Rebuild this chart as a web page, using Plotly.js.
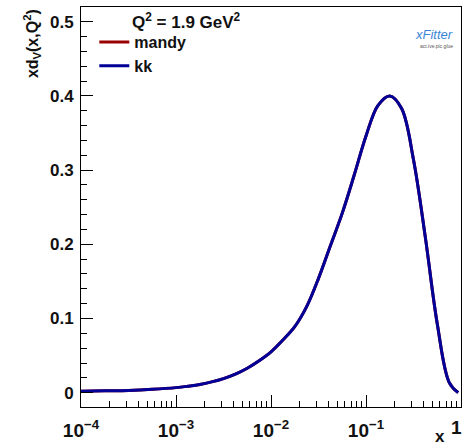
<!DOCTYPE html>
<html>
<head>
<meta charset="utf-8">
<script src="https://cdn.plot.ly/plotly-3.0.1.min.js"></script>
<style>html,body{margin:0;padding:0;background:#fff;}#chart{width:465px;height:448px;}</style>
</head>
<body>
<div id="chart"></div>
<script>
// log10(x) positions
const log10X = [-4.0, -3.75, -3.5, -3.25, -3.0, -2.875, -2.75, -2.625, -2.5, -2.375, -2.25, -2.125, -2.0, -1.875, -1.75, -1.625, -1.5, -1.375, -1.25, -1.125, -1.0, -0.875, -0.75, -0.625, -0.5, -0.375, -0.25, -0.125, -0.03];
// xd_V(x,Q^2) for the two fits (curves coincide)
const mandyValues = [0.002, 0.0025, 0.003, 0.0045, 0.0068, 0.0087, 0.011, 0.0145, 0.019, 0.025, 0.033, 0.043, 0.055, 0.071, 0.089, 0.116, 0.154, 0.198, 0.242, 0.293, 0.346, 0.387, 0.400, 0.383, 0.314, 0.209, 0.093, 0.014, 0.0];
const kkValues    = [0.002, 0.0025, 0.003, 0.0045, 0.0068, 0.0087, 0.011, 0.0145, 0.019, 0.025, 0.033, 0.043, 0.055, 0.071, 0.089, 0.116, 0.154, 0.198, 0.242, 0.293, 0.346, 0.387, 0.400, 0.383, 0.314, 0.209, 0.093, 0.014, 0.0];
const xValues = log10X.map(e => Math.pow(10, e));
const seriesNames = ["mandy", "kk"];
const xTickVals = [1e-4, 1e-3, 1e-2, 1e-1];
const xTickText = ["10<sup>\u22124</sup>", "10<sup>\u22123</sup>", "10<sup>\u22122</sup>", "10<sup>\u22121</sup>"];
const xMinorTickVals = [];
[1e-4, 1e-3, 1e-2, 1e-1].forEach(d => { for (let k = 2; k <= 9; k++) xMinorTickVals.push(d * k); });
const yTickVals = [0, 0.1, 0.2, 0.3, 0.4, 0.5];
const yTickText = ["0", "0.1", "0.2", "0.3", "0.4", "0.5"];

const fam = "Liberation Sans, Arial, sans-serif";
const bold = (size) => ({family: fam, size: size, color: "#111", weight: "bold"});

const traces = [
  {x: xValues, y: mandyValues, name: seriesNames[0], mode: "lines",
   line: {color: "#990000", width: 3, shape: "spline", smoothing: 1}},
  {x: xValues, y: kkValues, name: seriesNames[1], mode: "lines",
   line: {color: "#000099", width: 3, shape: "spline", smoothing: 1}}
];

const layout = {
  width: 465, height: 448,
  margin: {l: 81, r: 4, t: 7, b: 41, pad: 0},
  paper_bgcolor: "#fff", plot_bgcolor: "#fff",
  font: {family: fam, size: 16, color: "#111"},
  showlegend: true,
  legend: {x: 0.035, y: 0.955, xanchor: "left", yanchor: "top",
           font: bold(16), bgcolor: "rgba(0,0,0,0)", itemwidth: 30, tracegroupgap: 0},
  xaxis: {type: "log", range: [-4, 0], showgrid: false, zeroline: false,
          showline: true, linecolor: "#000", linewidth: 1, mirror: true,
          ticks: "inside", ticklen: 12, tickcolor: "#000",
          tickmode: "array", tickvals: xTickVals, ticktext: xTickText,
          ticklabelstandoff: 6,
          tickfont: bold(19),
          minor: {tickmode: "array", tickvals: xMinorTickVals, ticks: "inside", ticklen: 6, tickcolor: "#000", showgrid: false}},
  yaxis: {range: [-0.0193, 0.5198], showgrid: false, zeroline: false,
          showline: true, linecolor: "#000", linewidth: 1, mirror: true,
          ticks: "inside", ticklen: 12, tickcolor: "#000",
          tickvals: yTickVals, ticktext: yTickText,
          ticklabelstandoff: 3,
          tickfont: bold(17),
          minor: {ticks: "inside", ticklen: 6, tickcolor: "#000", dtick: 0.02, showgrid: false}},
  annotations: [
    {text: "1", xref: "paper", yref: "paper", x: 1.008, y: -0.021, xanchor: "right", yanchor: "top",
     showarrow: false, font: bold(19)},
    {text: "xd<sub>V</sub>(x,Q<sup>2</sup>)", xref: "paper", yref: "paper",
     x: -0.13, y: 1.0, xanchor: "center", yanchor: "top", textangle: -90, showarrow: false,
     font: bold(16)},
    {text: "x", xref: "paper", yref: "paper", x: 0.945, y: -0.045, xanchor: "center", yanchor: "top",
     showarrow: false, font: bold(17)},
    {text: "Q<sup>2</sup> = 1.9 GeV<sup>2</sup>", xref: "paper", yref: "paper",
     x: 0.13, y: 0.997, xanchor: "left", yanchor: "top", showarrow: false,
     font: bold(17)},
    {text: "<i>xFitter</i>", xref: "paper", yref: "paper", x: 0.985, y: 0.955, xanchor: "right", yanchor: "top",
     showarrow: false, font: {family: fam, size: 13, color: "#3a86d6"}},
    {text: "act.ive.pic glue", xref: "paper", yref: "paper", x: 0.985, y: 0.915, xanchor: "right", yanchor: "top",
     showarrow: false, font: {family: fam, size: 5, color: "#555"}}
  ]
};

Plotly.newPlot("chart", traces, layout, {displayModeBar: false, staticPlot: true});
</script>
</body>
</html>
